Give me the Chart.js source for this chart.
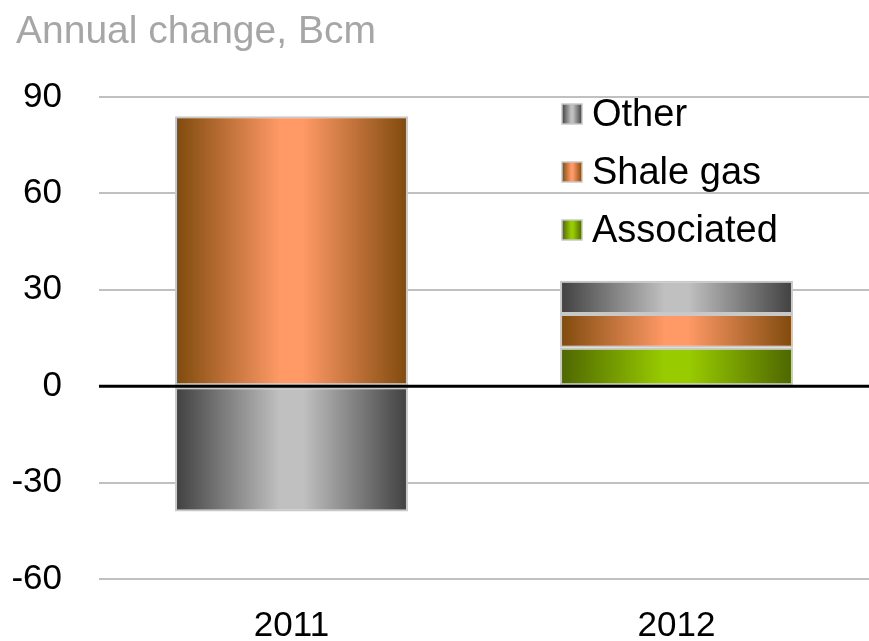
<!DOCTYPE html>
<html>
<head>
<meta charset="utf-8">
<script src="https://cdn.jsdelivr.net/npm/chart.js@4.4.1/dist/chart.umd.min.js"></script>
<style>
  html, body { margin: 0; padding: 0; background: #ffffff; }
  #chart { display: block; }
</style>
</head>
<body>
<canvas id="chart" width="869" height="641"></canvas>
<script>
const years = ['2011', '2012'];
const associated = [null, 12];
const shaleGas = [84, 10.5];
const other = [-39, 10.3];
const yMin = -60, yMax = 90, yStep = 30;
const titleText = 'Annual change, Bcm';

const FONT = '"Liberation Sans", Arial, sans-serif';
const BAR_PCT = 0.605;

// edge / centre colours for the horizontal shading on each bar
const shades = {
  'Associated': ['#4d6600', '#99cc00'],
  'Shale gas': ['#7f4a0c', '#ff9966'],
  'Other': ['#404040', '#c0c0c0']
};

function shade(ctx2d, x0, x1, pair) {
  const g = ctx2d.createLinearGradient(x0, 0, x1, 0);
  g.addColorStop(0, pair[0]);
  g.addColorStop(0.45, pair[1]);
  g.addColorStop(0.55, pair[1]);
  g.addColorStop(1, pair[0]);
  return g;
}

function barFill(name) {
  return function (c) {
    const chart = c.chart;
    const xs = chart.scales.x;
    if (!xs || !chart.chartArea) return shades[name][1];
    const mid = xs.getPixelForValue(c.dataIndex);
    const half = xs.width / years.length * BAR_PCT / 2;
    return shade(chart.ctx, mid - half, mid + half, shades[name]);
  };
}

const extras = {
  id: 'extras',
  afterDatasetsDraw(chart) {
    const ctx = chart.ctx;
    const area = chart.chartArea;
    const y0 = chart.scales.y.getPixelForValue(0);
    ctx.save();
    ctx.strokeStyle = '#000000';
    ctx.lineWidth = 3;
    ctx.beginPath();
    ctx.moveTo(area.left, y0);
    ctx.lineTo(area.right, y0);
    ctx.stroke();
    ctx.restore();
  },
  afterDraw(chart) {
    const ctx = chart.ctx;
    ctx.save();
    // title
    ctx.fillStyle = '#a6a6a6';
    ctx.font = '39px ' + FONT;
    ctx.textBaseline = 'alphabetic';
    ctx.textAlign = 'left';
    ctx.fillText(titleText, 16, 43);

    // legend, top to bottom = stack top to bottom
    const sets = chart.data.datasets.slice().reverse();
    ctx.font = '38px ' + FONT;
    sets.forEach((ds, i) => {
      const cy = 114 + i * 58;
      const pair = shades[ds.label];
      ctx.fillStyle = shade(ctx, 562, 582, pair);
      ctx.fillRect(562, cy - 10, 20, 20);
      ctx.strokeStyle = '#c8c8c8';
      ctx.lineWidth = 1.5;
      ctx.strokeRect(562, cy - 10, 20, 20);
      ctx.fillStyle = '#000000';
      ctx.fillText(ds.label, 592, cy + 12);
    });
    ctx.restore();
  }
};

new Chart(document.getElementById('chart'), {
  type: 'bar',
  data: {
    labels: years,
    datasets: [
      { label: 'Associated', data: associated, backgroundColor: barFill('Associated') },
      { label: 'Shale gas', data: shaleGas, backgroundColor: barFill('Shale gas') },
      { label: 'Other', data: other, backgroundColor: barFill('Other') }
    ]
  },
  plugins: [extras],
  options: {
    responsive: false,
    animation: false,
    layout: { padding: { top: 97, left: 0, right: -7, bottom: 0 } },
    datasets: {
      bar: {
        categoryPercentage: 1,
        barPercentage: BAR_PCT,
        borderColor: '#c8c8c8',
        borderWidth: 2,
        borderSkipped: false
      }
    },
    plugins: {
      legend: { display: false },
      title: { display: false },
      tooltip: { enabled: false }
    },
    scales: {
      x: {
        stacked: true,
        grid: { display: false, drawTicks: false },
        border: { display: false },
        ticks: { color: '#000000', font: { family: FONT, size: 35 }, padding: 26 },
        afterFit(s) { s.height = 62; }
      },
      y: {
        stacked: true,
        min: yMin,
        max: yMax,
        grid: { color: '#c0c0c0', lineWidth: 2, drawTicks: false },
        border: { display: false },
        ticks: { stepSize: yStep, color: '#000000', font: { family: FONT, size: 35 }, padding: 37 },
        afterFit(s) { s.width = 99; }
      }
    }
  }
});
</script>
</body>
</html>
